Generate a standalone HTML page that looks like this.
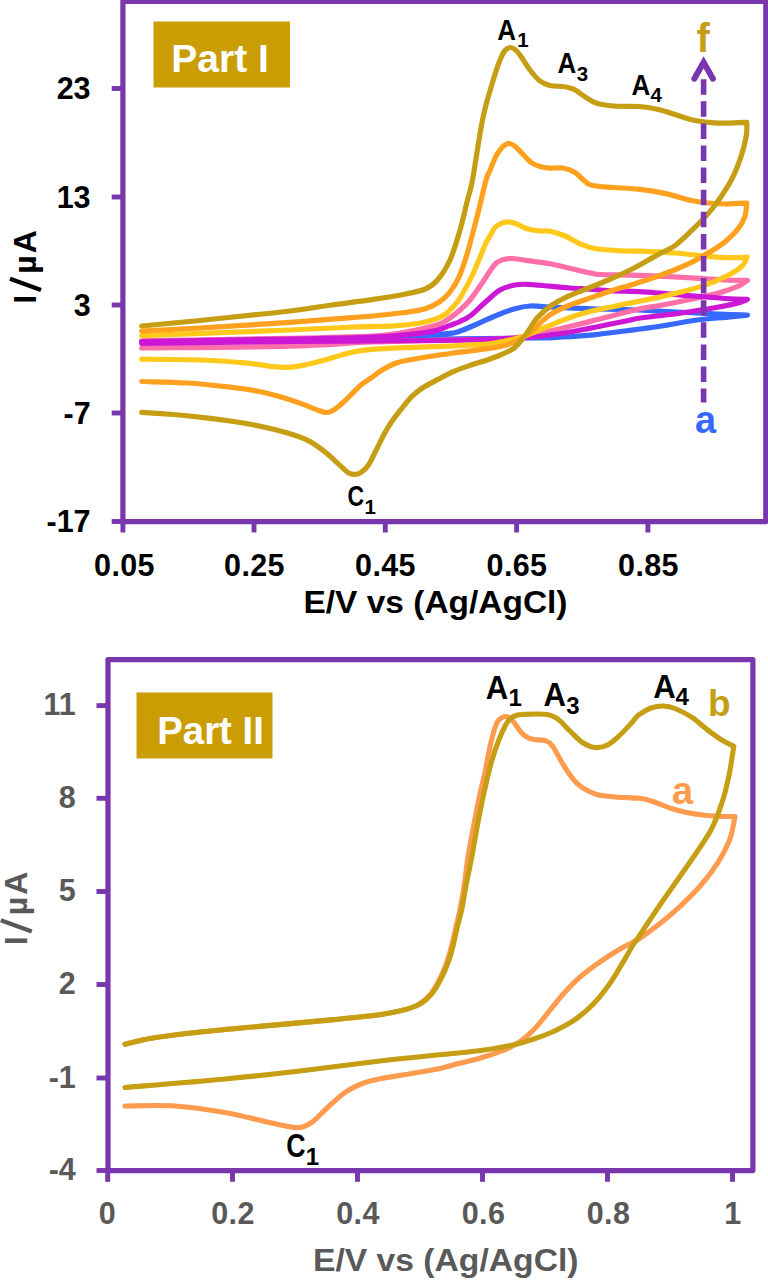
<!DOCTYPE html>
<html>
<head>
<meta charset="utf-8">
<title>Cyclic voltammograms</title>
<style>
html,body{margin:0;padding:0;background:#fff;}
body{width:768px;height:1280px;overflow:hidden;font-family:"Liberation Sans",sans-serif;}
svg{display:block;}
text{font-family:"Liberation Sans",sans-serif;font-weight:bold;}
.cv path{fill:none;stroke-width:5.2;stroke-linejoin:round;stroke-linecap:round;}
.cv2 path{fill:none;stroke-width:5.1;stroke-linejoin:round;stroke-linecap:round;}
.tk1{font-size:30.5px;fill:#000;}
.tk2{font-size:30.5px;fill:#595959;}
.lab1{font-size:29.5px;fill:#000;}
.sub1{font-size:20.5px;fill:#000;}
.lab2{font-size:33.5px;fill:#000;}
.sub2{font-size:24px;fill:#000;}
</style>
</head>
<body>
<svg width="768" height="1280" viewBox="0 0 768 1280">
<rect x="0" y="0" width="768" height="1280" fill="#ffffff"/>

<!-- ================= PART I ================= -->
<g class="cv">
<path d="M141.7 342.0 C166.4 341.7 246.9 340.8 290.0 340.0 C333.1 339.2 375.7 337.9 400.0 337.0 C424.3 336.1 427.5 335.1 435.8 334.5 C444.1 333.9 446.4 333.7 450.0 333.3 C453.6 332.9 453.3 333.4 457.5 332.0 C461.7 330.6 468.8 327.7 475.0 325.0 C481.2 322.3 488.3 318.7 495.0 316.0 C501.7 313.3 509.2 310.4 515.0 308.8 C520.8 307.1 524.2 306.3 530.0 306.0 C535.8 305.7 539.7 306.5 550.0 307.0 C560.3 307.5 579.3 308.3 592.0 308.8 C604.7 309.2 612.0 309.0 626.0 309.5 C640.0 310.0 661.4 311.3 676.0 312.0 C690.6 312.7 701.6 313.2 713.5 313.8 C725.4 314.3 741.8 315.0 747.5 315.2 C743.9 315.6 734.4 316.5 726.0 317.3 C717.6 318.1 708.2 318.5 697.0 320.0 C685.8 321.5 670.5 324.7 658.5 326.5 C646.5 328.3 635.8 329.6 625.0 331.0 C614.2 332.4 604.2 333.8 593.8 334.8 C583.3 335.8 571.5 336.5 562.5 337.0 C553.5 337.5 553.8 337.8 540.0 338.0 C526.2 338.2 513.3 338.2 480.0 338.5 C446.7 338.8 396.4 339.3 340.0 340.0 C283.6 340.7 174.8 342.1 141.7 342.5" stroke="#3869FF"/>
<path d="M141.7 340.8 C166.4 340.4 251.4 339.1 290.0 338.3 C328.6 337.5 354.7 336.9 373.0 336.0 C391.3 335.1 391.7 334.2 400.0 333.0 C408.3 331.8 416.3 330.0 423.0 328.5 C429.7 327.0 435.5 325.8 440.0 324.0 C444.5 322.2 446.7 320.3 450.0 318.0 C453.3 315.7 456.7 313.0 460.0 310.0 C463.3 307.0 466.2 304.6 470.0 300.0 C473.8 295.4 479.2 287.3 482.5 282.5 C485.8 277.7 487.7 274.2 490.0 271.0 C492.3 267.8 494.2 264.9 496.2 263.0 C498.3 261.1 500.0 260.6 502.5 259.8 C505.0 259.1 507.1 258.4 511.2 258.5 C515.4 258.6 521.0 259.7 527.5 260.6 C534.0 261.5 542.9 262.5 550.0 263.8 C557.1 265.0 563.0 266.7 570.0 268.3 C577.0 269.9 586.8 272.3 592.0 273.3 C597.2 274.3 593.0 274.2 601.0 274.5 C609.0 274.8 624.9 274.8 640.0 275.3 C655.1 275.9 677.2 277.0 691.5 277.8 C705.8 278.6 716.7 279.6 726.0 280.0 C735.3 280.4 743.9 280.3 747.5 280.4 C745.9 281.4 743.0 284.2 738.0 286.4 C733.0 288.5 725.0 291.1 717.3 293.3 C709.5 295.5 701.5 297.2 691.5 299.3 C681.5 301.4 665.6 304.4 657.0 306.0 C648.4 307.6 649.3 306.7 640.0 308.8 C630.7 310.9 611.7 316.1 601.0 318.8 C590.3 321.4 584.5 323.0 576.0 325.0 C567.5 327.0 559.3 329.0 550.0 331.0 C540.7 333.0 530.0 335.6 520.0 337.0 C510.0 338.4 501.7 339.0 490.0 339.5 C478.3 340.0 469.5 339.6 450.0 340.0 C430.5 340.4 399.7 341.0 373.0 342.0 C346.3 343.0 328.6 345.2 290.0 346.2 C251.4 347.2 166.4 347.7 141.7 348.0" stroke="#FF6FA8"/>
<path d="M141.7 341.5 C166.4 341.1 251.4 339.8 290.0 339.0 C328.6 338.2 352.2 337.9 373.0 337.0 C393.8 336.1 404.5 334.8 415.0 333.8 C425.5 332.7 430.0 332.0 435.8 330.6 C441.6 329.2 446.0 326.9 450.0 325.4 C454.0 323.9 456.7 323.1 460.0 321.5 C463.3 319.9 465.8 319.2 470.0 316.0 C474.2 312.8 480.0 306.8 485.0 302.5 C490.0 298.2 495.0 292.9 500.0 290.0 C505.0 287.1 510.4 285.9 515.0 285.0 C519.6 284.1 521.7 284.1 527.5 284.3 C533.3 284.5 542.9 285.6 550.0 286.2 C557.1 286.9 563.0 287.5 570.0 288.0 C577.0 288.5 584.8 288.8 592.0 289.3 C599.2 289.8 605.5 290.6 613.5 291.0 C621.5 291.4 627.0 290.8 640.0 291.6 C653.0 292.4 677.2 294.8 691.5 295.9 C705.8 297.0 716.7 297.9 726.0 298.5 C735.3 299.1 743.9 299.2 747.5 299.3 C745.6 300.0 742.5 302.0 736.0 303.6 C729.5 305.2 719.0 307.1 708.7 308.8 C698.4 310.5 685.9 312.5 674.4 314.0 C662.9 315.5 648.1 316.8 640.0 318.0 C631.9 319.2 636.7 318.8 626.0 321.0 C615.3 323.2 588.7 328.7 576.0 331.0 C563.3 333.3 559.3 333.8 550.0 335.0 C540.7 336.2 538.3 337.1 520.0 338.0 C501.7 338.9 478.3 339.9 440.0 340.5 C401.7 341.1 339.7 341.0 290.0 341.5 C240.3 342.0 166.4 343.0 141.7 343.3" stroke="#CC18D6"/>
<path d="M141.7 335.6 C166.4 334.7 254.9 331.4 290.0 330.0 C325.1 328.6 335.2 327.7 352.5 327.0 C369.8 326.3 382.9 326.4 394.0 325.8 C405.1 325.2 412.0 324.4 419.0 323.3 C426.0 322.2 431.5 320.5 435.8 319.0 C440.1 317.5 442.1 316.5 445.0 314.5 C447.9 312.5 450.5 309.8 453.0 307.0 C455.5 304.2 456.8 303.3 460.0 298.0 C463.2 292.7 468.3 283.8 472.5 275.0 C476.7 266.2 482.1 251.5 485.0 245.0 C487.9 238.5 488.3 238.9 490.0 236.0 C491.7 233.1 493.1 229.6 495.0 227.5 C496.9 225.4 499.1 224.2 501.2 223.3 C503.4 222.4 505.5 221.7 508.0 221.8 C510.5 221.9 513.4 222.7 516.2 223.8 C519.1 224.8 522.1 226.9 525.0 228.0 C527.9 229.1 530.9 229.8 533.8 230.3 C536.6 230.8 539.3 230.8 542.0 231.0 C544.7 231.2 546.2 230.5 550.0 231.3 C553.8 232.1 560.0 233.9 565.0 236.0 C570.0 238.1 574.8 241.6 580.0 243.8 C585.2 245.9 588.3 247.5 596.0 248.8 C603.7 250.0 618.7 250.6 626.0 251.0 C633.3 251.4 631.9 250.9 640.0 251.2 C648.1 251.5 662.9 252.1 674.4 253.0 C685.9 253.9 700.1 255.6 708.7 256.4 C717.3 257.2 719.6 257.6 726.0 257.7 C732.4 257.8 743.5 257.3 747.0 257.2 C746.3 258.5 745.1 262.6 743.0 265.0 C740.9 267.4 738.8 269.2 734.5 271.8 C730.2 274.4 722.4 278.1 717.3 280.4 C712.1 282.7 709.3 283.7 703.6 285.6 C697.9 287.5 690.3 289.7 683.0 291.6 C675.7 293.5 667.9 295.3 660.0 297.0 C652.1 298.7 643.0 300.5 635.4 302.0 C627.8 303.5 621.5 304.8 614.6 306.2 C607.7 307.7 600.7 308.9 593.8 310.6 C586.8 312.3 580.0 314.2 573.0 316.5 C566.0 318.8 558.2 322.0 552.0 324.5 C545.8 327.0 541.1 329.4 536.0 331.5 C530.9 333.6 526.4 335.3 521.2 336.9 C516.1 338.5 510.2 339.9 505.0 341.0 C499.8 342.1 498.3 342.9 490.0 343.8 C481.7 344.6 467.8 345.2 455.0 345.8 C442.2 346.4 427.2 346.7 413.3 347.3 C399.4 347.9 382.1 348.5 371.7 349.4 C361.3 350.3 358.6 350.7 350.8 352.5 C343.0 354.3 332.0 358.0 324.8 360.0 C317.6 362.0 313.4 363.1 307.7 364.3 C302.0 365.5 296.2 366.8 290.5 367.2 C284.8 367.6 280.9 367.3 273.3 366.6 C265.7 365.9 256.6 364.0 244.6 362.9 C232.6 361.8 218.8 360.6 201.6 360.0 C184.4 359.4 151.7 359.3 141.7 359.2" stroke="#FFC81A"/>
<path d="M141.7 331.0 C151.4 330.5 175.3 329.4 200.0 328.0 C224.7 326.6 268.1 323.8 290.0 322.3 C311.9 320.8 317.8 320.2 331.7 319.2 C345.6 318.1 361.1 317.1 373.3 316.0 C385.5 314.9 395.9 313.7 404.6 312.5 C413.3 311.3 419.5 310.6 425.4 308.8 C431.3 306.9 435.9 304.3 440.0 301.5 C444.1 298.7 446.8 296.1 450.0 292.0 C453.2 287.9 456.1 283.6 459.0 277.0 C461.9 270.4 464.4 262.8 467.5 252.5 C470.6 242.2 474.4 227.1 477.5 215.0 C480.6 202.9 483.9 187.4 486.0 180.0 C488.1 172.6 488.7 173.7 490.0 170.5 C491.3 167.3 492.5 163.8 493.8 161.0 C495.0 158.2 496.0 155.8 497.5 153.5 C499.0 151.2 501.1 148.5 502.5 147.0 C503.9 145.5 504.9 145.1 506.0 144.5 C507.1 143.9 507.9 143.2 509.4 143.5 C510.9 143.8 512.8 144.5 515.0 146.2 C517.2 148.0 519.8 151.0 522.5 153.8 C525.2 156.5 528.3 160.4 531.2 162.5 C534.2 164.6 536.9 165.6 540.0 166.5 C543.1 167.4 546.2 167.9 550.0 168.2 C553.8 168.4 558.3 167.3 562.5 168.0 C566.7 168.7 570.7 169.8 575.0 172.5 C579.3 175.2 584.3 181.7 588.5 184.0 C592.7 186.3 595.8 185.9 600.0 186.5 C604.2 187.1 606.8 187.0 613.5 187.5 C620.2 188.0 631.3 188.3 640.0 189.3 C648.7 190.3 657.2 191.7 665.8 193.6 C674.4 195.5 684.4 198.9 691.5 200.5 C698.6 202.1 703.0 202.4 708.7 203.0 C714.5 203.6 719.6 204.0 726.0 204.0 C732.4 204.0 743.3 203.2 746.8 203.0 C746.5 205.3 746.3 212.5 744.8 216.8 C743.3 221.1 741.1 224.9 738.0 228.9 C734.9 232.9 730.0 237.5 726.0 240.9 C722.0 244.3 717.7 247.1 714.0 249.5 C710.3 251.9 707.4 253.3 703.6 255.5 C699.9 257.6 696.4 260.0 691.5 262.4 C686.6 264.8 679.6 267.8 674.4 270.0 C669.1 272.2 664.8 273.7 660.0 275.4 C655.2 277.1 650.9 278.5 645.8 280.2 C640.7 281.9 635.5 283.5 629.2 285.4 C623.0 287.3 615.2 289.4 608.3 291.7 C601.3 294.0 594.1 296.7 587.5 299.0 C580.9 301.3 574.7 303.1 568.8 305.5 C562.8 307.9 556.5 310.8 552.0 313.5 C547.5 316.2 545.4 318.2 541.7 321.5 C538.0 324.8 534.3 329.7 530.0 333.0 C525.7 336.3 520.9 339.2 515.8 341.5 C510.7 343.8 505.4 345.3 499.2 346.7 C492.9 348.1 485.9 348.8 478.3 349.8 C470.7 350.9 460.7 352.0 453.3 353.0 C445.9 354.0 440.9 354.8 434.2 355.8 C427.5 356.8 419.5 358.0 413.3 359.2 C407.1 360.4 402.1 361.0 397.0 362.8 C391.9 364.6 386.7 367.4 382.5 369.8 C378.3 372.2 375.2 375.0 371.7 377.5 C368.2 380.0 364.7 381.9 361.2 384.8 C357.8 387.7 354.0 391.9 350.8 395.0 C347.6 398.1 344.9 401.0 342.0 403.5 C339.1 406.0 336.0 408.7 333.4 410.2 C330.8 411.7 329.2 412.6 326.3 412.5 C323.4 412.4 320.3 411.0 316.2 409.6 C312.1 408.2 307.6 405.9 301.9 403.9 C296.2 401.8 289.0 399.4 281.9 397.3 C274.8 395.2 267.6 393.2 259.0 391.5 C250.4 389.8 242.2 388.6 230.3 387.2 C218.4 385.8 202.1 383.9 187.3 383.0 C172.5 382.1 149.3 381.8 141.7 381.5" stroke="#FFA11E"/>
<path d="M141.7 326.0 C151.4 325.1 175.3 323.0 200.0 320.5 C224.7 318.0 268.1 313.6 290.0 311.0 C311.9 308.4 317.8 306.9 331.7 305.0 C345.6 303.1 361.1 301.2 373.3 299.4 C385.5 297.6 395.9 295.9 404.6 294.2 C413.3 292.5 419.9 291.4 425.4 289.0 C430.9 286.6 433.4 284.8 437.5 280.0 C441.6 275.2 446.2 268.3 450.0 260.0 C453.8 251.7 457.1 240.0 460.0 230.0 C462.9 220.0 465.4 208.3 467.5 200.0 C469.6 191.7 470.0 193.3 472.5 180.0 C475.0 166.7 479.2 136.2 482.5 120.0 C485.8 103.8 489.6 92.5 492.5 82.5 C495.4 72.5 497.9 65.3 500.0 60.0 C502.1 54.7 503.3 52.6 505.0 50.5 C506.7 48.4 508.3 47.7 510.0 47.5 C511.7 47.3 513.3 48.2 515.0 49.5 C516.7 50.8 517.5 51.6 520.0 55.0 C522.5 58.4 526.7 65.7 530.0 70.0 C533.3 74.3 536.7 78.4 540.0 81.0 C543.3 83.6 546.2 84.6 550.0 85.5 C553.8 86.4 559.2 86.1 562.5 86.5 C565.8 86.9 567.8 87.3 570.0 88.0 C572.2 88.7 573.3 88.9 576.0 90.5 C578.7 92.1 582.7 95.4 586.0 97.5 C589.3 99.6 591.4 101.6 596.0 103.0 C600.6 104.4 606.4 105.4 613.5 106.0 C620.6 106.6 632.2 106.2 638.5 106.5 C644.8 106.8 646.5 107.2 651.0 108.0 C655.5 108.8 659.0 109.5 665.8 111.5 C672.5 113.5 684.4 118.0 691.5 119.8 C698.6 121.6 703.0 121.7 708.7 122.3 C714.5 122.9 719.6 123.2 726.0 123.2 C732.4 123.2 743.3 122.5 746.8 122.3 C746.8 124.3 747.1 129.8 746.5 134.4 C745.9 139.0 744.4 144.9 743.0 150.0 C741.6 155.1 740.0 159.9 738.0 165.0 C736.0 170.1 733.6 175.8 731.0 180.8 C728.4 185.7 725.3 190.2 722.5 194.5 C719.7 198.8 717.1 202.5 714.0 206.5 C710.9 210.5 707.4 214.5 703.6 218.5 C699.9 222.5 696.4 226.0 691.5 230.6 C686.6 235.2 679.6 242.2 674.4 246.0 C669.1 249.8 664.8 250.9 660.0 253.5 C655.2 256.1 650.9 258.7 645.8 261.5 C640.7 264.3 635.5 267.4 629.2 270.5 C623.0 273.6 615.2 277.0 608.3 280.0 C601.3 283.0 594.1 285.8 587.5 288.5 C580.9 291.2 574.7 293.2 568.8 296.0 C562.8 298.8 557.2 301.4 552.0 305.0 C546.8 308.6 541.5 313.1 537.5 317.5 C533.5 321.9 530.6 327.8 528.0 331.5 C525.4 335.2 524.2 336.8 522.0 339.5 C519.8 342.2 516.8 345.7 514.5 347.7 C512.2 349.7 510.6 350.2 508.0 351.5 C505.4 352.8 502.8 354.1 499.2 355.5 C495.6 356.9 491.6 358.6 486.7 360.2 C481.8 361.8 475.6 363.5 470.0 365.4 C464.4 367.3 458.5 369.4 453.3 371.7 C448.1 374.0 444.0 376.2 438.8 379.0 C433.5 381.8 426.5 385.4 422.0 388.3 C417.5 391.2 415.2 393.2 411.7 396.7 C408.2 400.2 404.4 405.2 401.2 409.2 C398.1 413.2 395.2 416.6 392.5 420.5 C389.8 424.4 387.8 427.5 385.0 432.5 C382.2 437.5 378.8 445.0 376.0 450.4 C373.2 455.8 371.0 461.4 368.5 465.0 C366.0 468.6 363.5 470.7 361.2 472.3 C359.0 473.9 357.1 474.3 355.0 474.4 C352.9 474.5 351.4 474.6 348.8 473.0 C346.1 471.4 343.2 468.2 339.2 464.6 C335.2 461.1 330.1 455.8 324.8 451.7 C319.6 447.6 313.9 443.4 307.7 440.3 C301.5 437.2 295.7 435.4 287.6 433.0 C279.5 430.6 268.6 428.0 259.0 426.0 C249.4 424.0 239.9 422.4 230.3 421.0 C220.7 419.6 211.2 418.4 201.6 417.3 C192.0 416.2 183.0 415.3 173.0 414.5 C163.0 413.7 146.9 412.7 141.7 412.3" stroke="#C69E14"/>
</g>

<!-- frame -->
<g stroke="#7A36AC" fill="none">
<rect x="122.9" y="1.4" width="642.9" height="520.2" stroke-width="5.2" stroke-linejoin="round"/>
<!-- y ticks -->
<g stroke-width="4.9">
<line x1="111.7" y1="88.5" x2="122" y2="88.5"/>
<line x1="111.7" y1="197" x2="122" y2="197"/>
<line x1="111.7" y1="305" x2="122" y2="305"/>
<line x1="111.7" y1="413" x2="122" y2="413"/>
<line x1="111.7" y1="521.5" x2="122" y2="521.5"/>
<!-- x ticks -->
<line x1="122.9" y1="521" x2="122.9" y2="532.5"/>
<line x1="254" y1="521" x2="254" y2="532.5"/>
<line x1="385.3" y1="521" x2="385.3" y2="532.5"/>
<line x1="516.6" y1="521" x2="516.6" y2="532.5"/>
<line x1="647.9" y1="521" x2="647.9" y2="532.5"/>
</g>
</g>

<!-- dashed arrow -->
<g stroke="#7A36AC" fill="none">
<line x1="703.6" y1="79.2" x2="703.6" y2="402.5" stroke-width="5.6" stroke-dasharray="15.5 6.6"/>
<path d="M694.3 78.7 L703.6 62.3 L712.9 78.7" stroke-width="6" stroke-linecap="round" stroke-linejoin="miter"/>
</g>

<!-- Part I box -->
<rect x="153.5" y="21.5" width="136.5" height="66" fill="#CA9D05"/>
<text x="171.3" y="71.8" font-size="38.5" fill="#fff" textLength="97.5" lengthAdjust="spacingAndGlyphs">Part I</text>

<!-- y tick labels -->
<g class="tk1" text-anchor="end">
<text x="90.6" y="99.3">23</text>
<text x="90.6" y="207.8">13</text>
<text x="90.6" y="315.8">3</text>
<text x="90.6" y="423.8">-7</text>
<text x="90.6" y="532.2">-17</text>
</g>
<!-- x tick labels -->
<g class="tk1" text-anchor="middle" letter-spacing="0.4">
<text x="124.5" y="575.5">0.05</text>
<text x="254.5" y="575.5">0.25</text>
<text x="385.5" y="575.5">0.45</text>
<text x="517" y="575.5">0.65</text>
<text x="648.5" y="575.5">0.85</text>
</g>
<text x="303.5" y="613.3" font-size="31" fill="#000" textLength="264" lengthAdjust="spacingAndGlyphs">E/V vs (Ag/AgCl)</text>
<g transform="translate(36,301.7) rotate(-90)" font-size="32" fill="#000" color="#000">
<text x="-2.1" y="0">I</text><line x1="11.6" y1="5" x2="23" y2="-26" stroke="currentColor" stroke-width="4.3"/><text x="28" y="0">µ</text><text x="48.4" y="0">A</text>
</g>

<!-- peak labels -->
<text class="lab1" transform="translate(497.3,39.5) scale(0.88,1)">A</text><text class="sub1" x="517.3" y="46.5">1</text>
<text class="lab1" transform="translate(557.4,72.5) scale(0.88,1)">A</text><text class="sub1" x="576.8" y="80.8">3</text>
<text class="lab1" transform="translate(631.4,94.5) scale(0.88,1)">A</text><text class="sub1" x="650.6" y="102.4">4</text>
<text class="lab1" transform="translate(347.5,505.6) scale(0.78,1)">C</text><text class="sub1" x="364.6" y="513.6">1</text>
<text x="696.5" y="52" font-size="40" fill="#C69E14">f</text>
<text x="695" y="432.5" font-size="38" fill="#3869FF">a</text>

<!-- ================= PART II ================= -->
<g class="cv2">
<path d="M125.0 1044.3 C129.9 1043.2 141.9 1039.8 154.2 1037.8 C166.4 1035.8 180.1 1034.2 198.5 1032.2 C216.9 1030.2 242.8 1028.0 264.9 1025.9 C287.0 1023.9 312.8 1021.7 331.2 1019.9 C349.6 1018.1 363.8 1016.8 375.5 1015.3 C387.2 1013.8 394.0 1012.4 401.2 1010.6 C408.4 1008.8 413.7 1007.2 418.6 1004.4 C423.5 1001.6 427.3 997.9 430.8 993.8 C434.3 989.7 436.8 984.6 439.4 979.6 C442.0 974.6 444.4 969.3 446.4 963.7 C448.4 958.1 450.0 952.2 451.6 946.0 C453.2 939.8 454.6 932.7 456.0 926.5 C457.4 920.3 458.8 916.2 460.2 908.8 C461.6 901.4 463.5 890.1 464.7 882.0 C465.9 873.9 466.0 869.5 467.5 860.0 C469.0 850.5 471.7 836.0 473.8 825.0 C475.8 814.0 478.2 802.1 480.0 793.8 C481.8 785.4 483.1 781.2 484.4 775.0 C485.7 768.8 486.9 761.9 488.0 756.2 C489.1 750.6 490.1 746.0 491.2 741.2 C492.4 736.5 493.8 731.0 495.0 727.5 C496.2 724.0 497.1 721.8 498.8 720.0 C500.4 718.2 503.1 716.8 505.0 716.5 C506.9 716.2 508.3 716.8 510.0 718.0 C511.7 719.2 513.1 721.3 515.0 723.8 C516.9 726.2 519.2 730.2 521.2 732.5 C523.3 734.8 525.2 736.3 527.5 737.5 C529.8 738.7 532.1 739.2 535.0 739.7 C537.9 740.2 542.1 739.5 545.0 740.5 C547.9 741.5 549.2 741.5 552.5 746.0 C555.8 750.5 560.8 761.2 565.0 767.5 C569.2 773.8 572.5 779.4 577.5 783.8 C582.5 788.1 588.8 791.5 595.0 793.8 C601.2 796.0 607.5 796.2 615.0 797.0 C622.5 797.8 633.2 797.4 640.0 798.3 C646.8 799.2 650.4 800.8 655.6 802.5 C660.8 804.2 666.0 806.8 671.2 808.5 C676.5 810.2 681.7 811.4 686.9 812.5 C692.1 813.6 697.3 814.4 702.5 815.0 C707.7 815.6 712.6 816.0 718.0 816.2 C723.4 816.5 732.2 816.5 735.0 816.5 C734.2 820.2 732.8 831.0 730.0 838.6 C727.2 846.2 723.0 854.4 718.0 862.3 C713.0 870.2 706.6 878.6 700.2 886.0 C693.8 893.4 686.4 900.4 679.5 906.8 C672.6 913.2 665.6 919.1 658.7 924.6 C651.8 930.1 644.1 935.6 638.0 939.5 C631.9 943.4 628.4 944.2 622.3 947.8 C616.2 951.3 608.5 956.0 601.5 960.8 C594.5 965.6 586.7 971.3 580.6 976.5 C574.5 981.7 569.8 986.8 565.0 992.0 C560.2 997.2 555.9 1002.9 552.0 1007.7 C548.1 1012.5 545.1 1016.6 541.6 1020.7 C538.1 1024.8 534.9 1028.7 531.0 1032.4 C527.1 1036.1 522.8 1039.9 518.0 1042.9 C513.2 1046.0 509.0 1048.1 502.5 1050.7 C496.0 1053.3 487.2 1056.1 479.0 1058.5 C470.8 1060.9 459.5 1063.3 453.0 1065.0 C446.5 1066.7 447.3 1067.0 440.0 1068.5 C432.7 1070.0 418.3 1072.4 409.0 1074.0 C399.7 1075.6 391.3 1076.6 384.0 1078.0 C376.7 1079.4 371.5 1080.1 365.0 1082.5 C358.5 1084.9 351.7 1087.9 345.0 1092.5 C338.3 1097.1 330.8 1104.8 325.0 1110.0 C319.2 1115.2 315.0 1120.6 310.0 1123.5 C305.0 1126.4 302.5 1127.8 295.0 1127.5 C287.5 1127.2 276.7 1124.0 265.0 1121.5 C253.3 1119.0 240.0 1115.1 225.0 1112.5 C210.0 1109.9 191.7 1107.1 175.0 1106.0 C158.3 1104.9 133.3 1106.0 125.0 1106.0" stroke="#FF9B4F"/>
<path d="M125.0 1044.3 C129.9 1043.2 141.9 1039.8 154.2 1037.8 C166.4 1035.8 180.1 1034.2 198.5 1032.2 C216.9 1030.2 242.8 1028.0 264.9 1025.9 C287.0 1023.9 312.8 1021.7 331.2 1019.9 C349.6 1018.1 363.8 1016.8 375.5 1015.3 C387.2 1013.8 394.4 1012.4 401.7 1010.6 C409.0 1008.8 414.4 1007.2 419.4 1004.4 C424.4 1001.6 428.3 997.9 431.8 993.8 C435.3 989.7 438.0 984.6 440.6 979.6 C443.2 974.6 445.6 969.3 447.7 963.7 C449.8 958.1 451.4 952.2 453.0 946.0 C454.6 939.8 456.0 932.7 457.5 926.5 C459.0 920.3 460.4 916.2 461.9 908.8 C463.4 901.4 465.1 890.1 466.7 882.0 C468.3 873.9 469.4 869.5 471.2 860.0 C473.1 850.5 475.4 836.0 477.5 825.0 C479.6 814.0 481.5 804.2 483.8 793.8 C486.0 783.3 488.8 771.5 491.2 762.5 C493.8 753.5 496.5 746.0 498.8 740.0 C501.0 734.0 503.1 729.8 505.0 726.2 C506.9 722.7 507.9 720.6 510.0 718.8 C512.1 716.9 515.0 715.7 517.5 715.0 C520.0 714.3 522.1 714.6 525.0 714.4 C527.9 714.2 531.2 714.0 535.0 714.0 C538.8 714.0 543.8 713.7 547.5 714.5 C551.2 715.3 553.8 716.0 557.5 718.8 C561.2 721.5 565.8 727.0 570.0 731.0 C574.2 735.0 578.3 739.8 582.5 742.5 C586.7 745.2 590.8 747.1 595.0 747.5 C599.2 747.9 603.3 747.1 607.5 745.0 C611.7 742.9 615.9 738.8 620.0 735.0 C624.1 731.2 628.9 725.8 632.0 722.5 C635.1 719.2 635.3 717.4 638.5 715.0 C641.7 712.6 646.8 709.5 651.0 708.0 C655.2 706.5 659.5 705.9 663.5 706.0 C667.5 706.1 670.3 706.6 675.0 708.5 C679.7 710.4 686.2 713.7 691.6 717.2 C697.0 720.7 702.3 725.9 707.2 729.6 C712.1 733.4 716.8 736.9 721.2 739.7 C725.7 742.5 731.7 745.2 733.8 746.3 C733.5 748.2 732.7 753.8 732.0 758.0 C731.3 762.2 730.6 767.3 729.8 771.6 C729.0 775.9 727.9 780.1 727.0 784.0 C726.1 787.9 725.9 790.0 724.4 795.0 C722.9 800.0 720.2 807.9 718.0 813.8 C715.8 819.6 714.5 823.7 711.0 830.0 C707.5 836.3 702.5 843.7 697.3 851.5 C692.0 859.3 685.9 867.8 679.5 877.0 C673.1 886.2 665.1 897.4 658.7 906.8 C652.3 916.2 645.2 927.0 640.9 933.5 C636.6 940.0 635.8 940.5 632.7 945.5 C629.6 950.5 626.2 956.9 622.3 963.4 C618.4 969.9 614.1 977.6 609.3 984.3 C604.5 991.0 599.2 997.9 593.6 1003.8 C588.0 1009.6 581.9 1014.9 575.4 1019.4 C568.9 1023.9 561.5 1027.7 554.6 1031.0 C547.7 1034.3 540.7 1036.7 533.8 1039.0 C526.8 1041.3 522.1 1043.0 513.0 1045.0 C503.9 1047.0 491.2 1049.1 479.0 1050.7 C466.8 1052.3 455.8 1053.2 440.0 1054.8 C424.2 1056.4 407.3 1057.8 384.0 1060.5 C360.7 1063.2 326.5 1067.9 300.0 1071.0 C273.5 1074.1 254.2 1076.2 225.0 1079.0 C195.8 1081.8 141.7 1086.1 125.0 1087.5" stroke="#C69E14"/>
</g>

<g stroke="#7A36AC" fill="none">
<rect x="108" y="659.6" width="644.9" height="511" stroke-width="5.2" stroke-linejoin="round"/>
<g stroke-width="4.9">
<line x1="96.5" y1="705.6" x2="107" y2="705.6"/>
<line x1="96.5" y1="798.3" x2="107" y2="798.3"/>
<line x1="96.5" y1="891.5" x2="107" y2="891.5"/>
<line x1="96.5" y1="984.5" x2="107" y2="984.5"/>
<line x1="96.5" y1="1078" x2="107" y2="1078"/>
<line x1="96.5" y1="1170.5" x2="107" y2="1170.5"/>
<line x1="107.7" y1="1170" x2="107.7" y2="1181.8"/>
<line x1="232.5" y1="1170" x2="232.5" y2="1181.8"/>
<line x1="357.5" y1="1170" x2="357.5" y2="1181.8"/>
<line x1="482.5" y1="1170" x2="482.5" y2="1181.8"/>
<line x1="607.5" y1="1170" x2="607.5" y2="1181.8"/>
<line x1="732.5" y1="1170" x2="732.5" y2="1181.8"/>
</g>
</g>

<rect x="136.5" y="692.5" width="136" height="66" fill="#CA9D05"/>
<text x="157.3" y="743.6" font-size="39" fill="#fff" textLength="106.5" lengthAdjust="spacingAndGlyphs">Part II</text>

<g class="tk2" text-anchor="end">
<text x="75.8" y="715.3">11</text>
<text x="75.8" y="808">8</text>
<text x="75.8" y="901.2">5</text>
<text x="75.8" y="994.2">2</text>
<text x="75.8" y="1087.7">-1</text>
<text x="75.8" y="1180.1">-4</text>
</g>
<g class="tk2" text-anchor="middle" letter-spacing="0.4">
<text x="107.5" y="1224">0</text>
<text x="233" y="1224">0.2</text>
<text x="358" y="1224">0.4</text>
<text x="483.5" y="1224">0.6</text>
<text x="608.5" y="1224">0.8</text>
<text x="733" y="1224">1</text>
</g>
<text x="313" y="1271.3" font-size="31" fill="#595959" textLength="265.5" lengthAdjust="spacingAndGlyphs">E/V vs (Ag/AgCl)</text>
<g transform="translate(26.8,943.2) rotate(-90)" font-size="32" fill="#595959" color="#595959">
<text x="-2.1" y="0">I</text><line x1="11.6" y1="5" x2="23" y2="-26" stroke="currentColor" stroke-width="4.3"/><text x="28" y="0">µ</text><text x="48.4" y="0">A</text>
</g>

<text class="lab2" transform="translate(485.8,699) scale(0.93,1)">A</text><text class="sub2" x="508.6" y="706.3">1</text>
<text class="lab2" transform="translate(543.4,706.2) scale(0.93,1)">A</text><text class="sub2" x="566.3" y="713.8">3</text>
<text class="lab2" transform="translate(653.2,697.7) scale(0.93,1)">A</text><text class="sub2" x="675.6" y="705.2">4</text>
<text class="lab2" transform="translate(286.3,1157.3) scale(0.80,1)">C</text><text class="sub2" x="305.8" y="1165.3">1</text>
<text x="708" y="716" font-size="37" fill="#C69E14">b</text>
<text x="672" y="803.5" font-size="38" fill="#FF9B4F">a</text>
</svg>
</body>
</html>
